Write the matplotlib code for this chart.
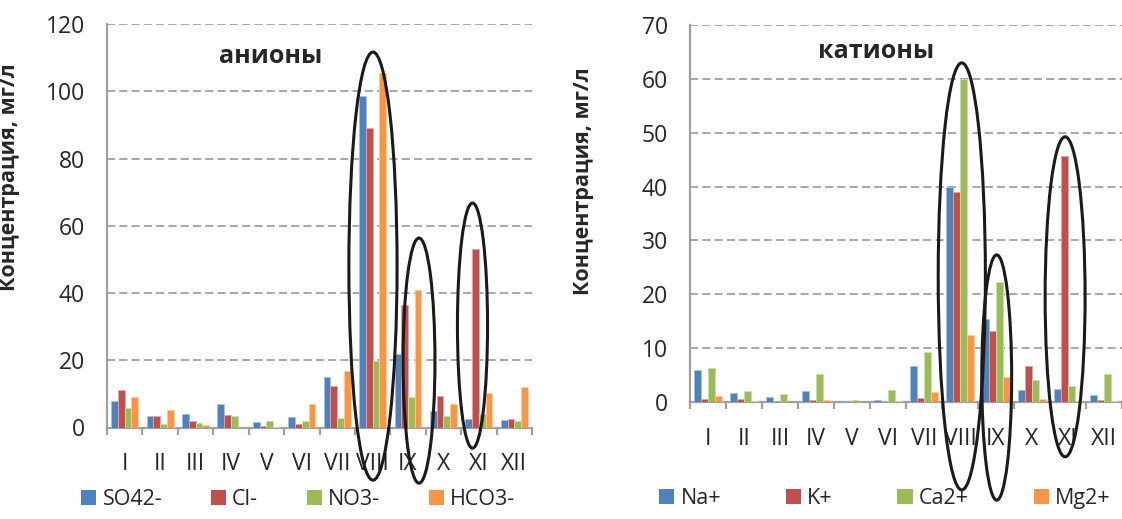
import matplotlib
matplotlib.use('Agg')
import matplotlib.pyplot as plt
import numpy as np
from matplotlib.patches import Ellipse, Patch

plt.rcParams['font.family'] = ['Open Sans', 'DejaVu Sans']

months = ['I', 'II', 'III', 'IV', 'V', 'VI', 'VII', 'VIII', 'IX', 'X', 'XI', 'XII']

# anions, mg/l
so4 = [8.0, 3.4, 4.1, 7.0, 1.7, 3.1, 15.1, 98.5, 21.9, 4.9, 2.6, 2.2]
cl = [11.3, 3.4, 2.0, 3.7, 0.4, 1.1, 12.4, 89.0, 36.5, 9.4, 53.2, 2.4]
no3 = [5.8, 1.0, 1.4, 3.5, 2.0, 1.8, 2.9, 19.8, 9.2, 3.4, 4.0, 1.9]
hco3 = [9.1, 5.2, 0.8, 0.0, 0.1, 7.1, 16.9, 105.5, 41.0, 7.0, 10.2, 12.0]

# cations, mg/l
na = [5.9, 1.7, 0.8, 2.0, 0.0, 0.4, 6.7, 40.0, 15.3, 2.2, 2.4, 1.3]
k = [0.5, 0.5, 0.0, 0.4, 0.1, 0.1, 0.7, 39.0, 13.1, 6.6, 45.6, 0.3]
ca = [6.3, 2.0, 1.4, 5.1, 0.3, 2.1, 9.3, 60.0, 22.3, 4.1, 2.9, 5.1]
mg = [1.1, 0.1, 0.0, 0.3, 0.0, 0.1, 1.8, 12.4, 4.5, 0.5, 0.1, 0.1]

anion_names = ['SO42-', 'Cl-', 'NO3-', 'HCO3-']
cation_names = ['Na+', 'K+', 'Ca2+', 'Mg2+']
colors = ['#4F81BD', '#C0504D', '#9BBB59', '#F79646']
edges = ['#A7C0DE', '#E0A8A6', '#CDDDAC', '#FBCBA2']

# highlighted months: (x centre, y centre, width, height) in data units
anion_rings = [(7.01, 48.0, 1.36, 127.3), (8.31, 19.9, 0.90, 72.9), (9.82, 30.3, 0.85, 72.9)]
cation_rings = [(7.05, 23.3, 1.31, 79.4), (8.02, 4.5, 0.83, 45.6), (9.92, 19.5, 1.11, 59.5)]

TXT = '#262626'
GRID = '#A0A0A0'


def draw_panel(ax, series, names, ymax, ystep, title, title_pos, rings, label_y,
               leg_x, leg_y, colspace):
    x = np.arange(len(months))
    w = 0.19
    for i, vals in enumerate(series):
        ax.bar(x + (i - 1.5) * w, vals, w, color=colors[i], edgecolor=edges[i],
               linewidth=0.6, zorder=3)
    ax.set_xlim(-0.5, len(months) - 0.5)
    ax.set_ylim(0, ymax)
    ax.set_yticks(np.arange(0, ymax + 1, ystep))
    ax.yaxis.grid(True, color=GRID, linewidth=1.3, linestyle=(0, (4.5, 2.3)), zorder=0)
    ax.set_axisbelow(True)
    for s in ['top', 'right']:
        ax.spines[s].set_visible(False)
    for s in ['left', 'bottom']:
        ax.spines[s].set_color(GRID)
        ax.spines[s].set_linewidth(1.6)
    ax.set_xticks(x)
    ax.set_xticklabels(months)
    ax.set_xticks(np.arange(-0.5, len(months)), minor=True)
    ax.tick_params(axis='x', which='major', length=0, pad=18, labelsize=16.5, labelcolor=TXT)
    ax.tick_params(axis='x', which='minor', length=5, width=1.6, color=GRID)
    ax.tick_params(axis='y', length=0, pad=16, labelsize=16.5, labelcolor=TXT)
    ax.set_ylabel('Концентрация, мг/л', fontsize=15.5, fontweight='bold', color=TXT)
    ax.yaxis.set_label_coords(label_y[0], label_y[1])
    ax.text(title_pos[0], title_pos[1], title, transform=ax.transAxes, ha='center',
            va='center', fontsize=18, fontweight='bold', color=TXT)
    for cx, cy, ew, eh in rings:
        ax.add_patch(Ellipse((cx, cy), ew, eh, fill=False, edgecolor='#1A1A1A',
                             linewidth=2.2, clip_on=False, zorder=5))
    handles = [Patch(facecolor=c, edgecolor='none') for c in colors]
    ax.legend(handles, names, ncol=4, loc='upper left', bbox_to_anchor=(leg_x, leg_y),
              bbox_transform=ax.figure.transFigure, frameon=False, fontsize=15.5,
              handlelength=0.7, handleheight=0.7, handletextpad=0.3,
              columnspacing=colspace, borderpad=0, borderaxespad=0, labelcolor=TXT)


fig = plt.figure(figsize=(11.22, 5.19), dpi=100)
ax1 = fig.add_axes([107 / 1122, 1 - 427.5 / 519, 425 / 1122, 403.5 / 519])
ax2 = fig.add_axes([690 / 1122, 1 - 401.7 / 519, 432 / 1122, 376.5 / 519])

draw_panel(ax1, [so4, cl, no3, hco3], anion_names, 120, 20, 'анионы', (0.384, 0.92),
           anion_rings, (-0.205, 0.62), 81 / 1122, 1 - 489 / 519, 2.25)
draw_panel(ax2, [na, k, ca, mg], cation_names, 70, 10, 'катионы', (0.43, 0.929),
           cation_rings, (-0.222, 0.586), 659 / 1122, 1 - 488 / 519, 3.0)

fig.savefig('out.png', dpi=100)
